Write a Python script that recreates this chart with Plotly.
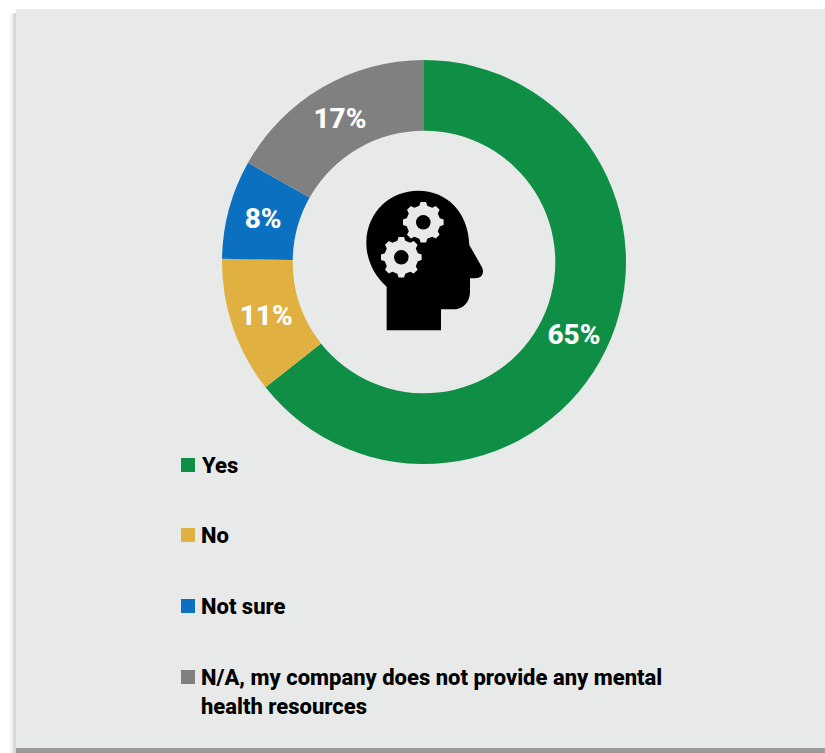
import math
import plotly.graph_objects as go

WIDTH, HEIGHT = 825, 753

categories = ["Yes", "No", "Not sure", "N/A, my company does not provide any mental<br>health resources"]
shares = [65, 11, 8, 17]
colors = ["#0F8F45", "#E0B040", "#0A70BF", "#808080"]

PANEL = "#E8EAE9"
FONT = "Roboto"


def px(x):
    return x / WIDTH


def py(y):
    return 1 - y / HEIGHT


def rect(x0, y0, x1, y1, color, layer="below"):
    return dict(type="rect", xref="paper", yref="paper", x0=px(x0), x1=px(x1), y0=py(y0), y1=py(y1),
                fillcolor=color, line_width=0, layer=layer)


def p(x, y):
    return f"{px(x):.5f},{py(y):.5f}"


def gear_path(cx, cy, outer, inner, teeth=8):
    pts = []
    step = 2 * math.pi / teeth
    for i in range(teeth):
        a = i * step - math.pi / 2
        for da, r in ((-0.3, inner), (-0.17, outer), (0.17, outer), (0.3, inner)):
            t = a + da * step
            pts.append(p(cx + r * math.cos(t), cy + r * math.sin(t)))
    return "M" + " L".join(pts) + " Z"


def circle(cx, cy, r, color):
    return dict(type="circle", xref="paper", yref="paper", x0=px(cx - r), x1=px(cx + r),
                y0=py(cy + r), y1=py(cy - r), fillcolor=color, line_width=0, layer="above")


def head_point(zx, zy):
    return p(340 + zx / 3, 170 + zy / 3)


# Head silhouette in profile, facing right
head = (
    f"M{head_point(140, 481)} L{head_point(140, 350)} "
    f"C{head_point(100, 315)} {head_point(78, 265)} {head_point(79, 215)} "
    f"C{head_point(82, 125)} {head_point(150, 62)} {head_point(235, 62)} "
    f"C{head_point(320, 62)} {head_point(385, 125)} {head_point(388, 225)} "
    f"L{head_point(425, 290)} C{head_point(435, 310)} {head_point(425, 325)} {head_point(405, 325)} "
    f"L{head_point(390, 325)} L{head_point(390, 365)} "
    f"C{head_point(390, 400)} {head_point(365, 418)} {head_point(340, 418)} "
    f"L{head_point(303, 418)} L{head_point(303, 481)} Z"
)

shapes = [
    rect(10, 15, 13, 753, "#F3F3F3"),
    rect(13, 13, 16, 753, "#D8D8D8"),
    rect(16, 9, WIDTH, 748, PANEL),
    rect(16, 748, WIDTH, HEIGHT, "#999999"),
    dict(type="path", path=head, xref="paper", yref="paper", fillcolor="#000000", line_width=0, layer="above"),
]
for cx, cy in ((423.3, 222.3), (401.3, 257.3)):
    shapes.append(dict(type="path", path=gear_path(cx, cy, 20.5, 17), xref="paper", yref="paper",
                       fillcolor=PANEL, line_width=0, layer="above"))
    shapes.append(circle(cx, cy, 7.3, "#000000"))

# Hand-placed key: wide row spacing, wrapped last entry
annotations = []
for label, color, y in zip(categories, colors, (465, 535, 606, 692)):
    swatch_y = y if "<br>" not in label else 677
    shapes.append(rect(181, swatch_y - 7, 195, swatch_y + 7, color))
    annotations.append(dict(text=label, x=px(199), y=py(y), xref="paper", yref="paper", xanchor="left",
                            yanchor="middle", align="left", showarrow=False,
                            font=dict(family=FONT, size=22, weight=800, color="#000000")))

fig = go.Figure(go.Pie(
    labels=categories,
    values=shares,
    marker=dict(colors=colors, line_width=0),
    hole=0.65,
    sort=False,
    direction="clockwise",
    rotation=0,
    texttemplate="%{value}%",
    textposition="inside",
    insidetextorientation="horizontal",
    insidetextfont=dict(family=FONT, size=28, weight=800, color="#FFFFFF"),
    showlegend=False,
    domain=dict(x=[px(424 - 202), px(424 + 202)], y=[py(262 + 202), py(262 - 202)]),
))
fig.update_layout(
    width=WIDTH,
    height=HEIGHT,
    margin=dict(l=0, r=0, t=0, b=0),
    paper_bgcolor="#FFFFFF",
    font=dict(family=FONT),
    shapes=shapes,
    annotations=annotations,
)
fig.write_html("out.html")
